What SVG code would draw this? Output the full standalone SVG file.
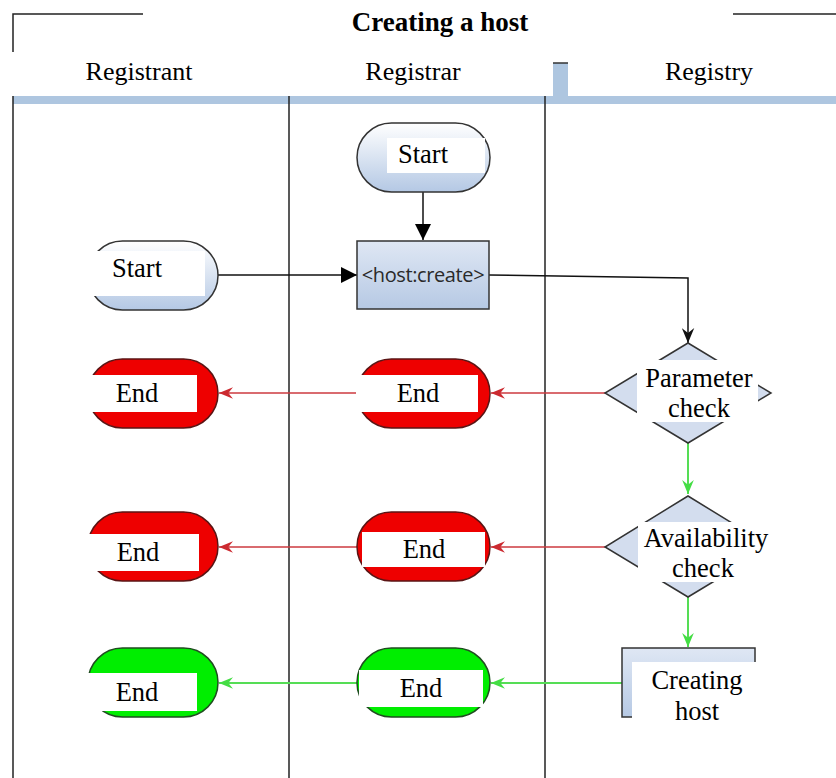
<svg xmlns="http://www.w3.org/2000/svg" width="836" height="778" viewBox="0 0 836 778">
<defs>
<linearGradient id="gStart" x1="0" y1="0" x2="0" y2="1"><stop offset="0" stop-color="#ffffff"/><stop offset="1" stop-color="#b4c8e4"/></linearGradient>
<linearGradient id="gRect" x1="0" y1="0" x2="0" y2="1"><stop offset="0" stop-color="#dfe7f4"/><stop offset="1" stop-color="#b6c9e4"/></linearGradient>
<marker id="mTri" viewBox="0 0 10 10" refX="10" refY="5" markerWidth="16" markerHeight="16" markerUnits="userSpaceOnUse" orient="auto"><path d="M0,0 L10,5 L0,10 z" fill="#000"/></marker>
<marker id="mBlk" viewBox="0 0 12 10" refX="12" refY="5" markerWidth="15" markerHeight="13" markerUnits="userSpaceOnUse" orient="auto"><path d="M0,0 L12,5 L0,10 L4,5 z" fill="#111"/></marker>
<marker id="mRed" viewBox="0 0 12 10" refX="12" refY="5" markerWidth="14" markerHeight="12" markerUnits="userSpaceOnUse" orient="auto"><path d="M0,0 L12,5 L0,10 L4,5 z" fill="#cc2a30"/></marker>
<marker id="mGrn" viewBox="0 0 12 10" refX="12" refY="5" markerWidth="14" markerHeight="12" markerUnits="userSpaceOnUse" orient="auto"><path d="M0,0 L12,5 L0,10 L4,5 z" fill="#44dd44"/></marker>
</defs>
<style>
.t{font-family:"Liberation Serif","Times New Roman",serif;font-size:26.5px;fill:#000;text-anchor:middle}
.h{font-family:"Liberation Serif","Times New Roman",serif;font-size:26px;fill:#000;text-anchor:middle}
.wb{fill:#fff}
.ln{stroke:#222;stroke-width:1.5;fill:none}
.startN{fill:url(#gStart);stroke:#333;stroke-width:1.5}
.rectN{fill:url(#gRect);stroke:#333;stroke-width:1.5}
.dia{fill:#d3ddee;stroke:#333;stroke-width:1.5}
.endR{fill:#ee0000;stroke:#5a1414;stroke-width:1.5}
.endG{fill:#00ee00;stroke:#1f4d1f;stroke-width:1.5}
.cb{stroke:#111;stroke-width:1.5;fill:none}
.cr{stroke:#cc3a3f;stroke-width:1.5;fill:none;marker-end:url(#mRed)}
.cg{stroke:#55dd55;stroke-width:2;fill:none;marker-end:url(#mGrn)}
</style>
<rect width="836" height="778" fill="#fff"/>
<g id="frame">
<path class="ln" d="M13,52 L13,14 L143,14"/>
<path class="ln" d="M733,14 L836,14"/>
<text x="440" y="31" class="t" style="font-weight:bold;font-size:27px">Creating a host</text>
<rect x="553" y="63" width="15" height="33" fill="#aec6e0"/>
<line x1="553" y1="63" x2="568" y2="63" stroke="#333" stroke-width="1.5"/>
<rect x="13" y="96" width="823" height="8" fill="#aec6e0"/>
<text x="139" y="80" class="h">Registrant</text>
<text x="413" y="80" class="h">Registrar</text>
<text x="709" y="80" class="h">Registry</text>
<line class="ln" x1="13" y1="96" x2="13" y2="778"/>
<line class="ln" x1="289" y1="96" x2="289" y2="778"/>
<line class="ln" x1="545" y1="96" x2="545" y2="778"/>
</g>
<g id="connectors">
<path class="cb" d="M423,192 L423,240" marker-end="url(#mTri)"/>
<path class="cb" d="M218,275 L357,275" marker-end="url(#mTri)"/>
<path class="cb" d="M489,275 L688,278 L688,343" marker-end="url(#mBlk)"/>
<path class="cr" d="M605,393 L491,393"/>
<path class="cr" d="M357,393 L219,393"/>
<path class="cr" d="M605,547 L491,547"/>
<path class="cr" d="M357,547 L219,547"/>
<path class="cg" d="M688,443 L688,494"/>
<path class="cg" d="M688,597 L688,647"/>
<path class="cg" d="M622,683 L491,683"/>
<path class="cg" d="M357,683 L219,683"/>
</g>
<g id="registrar-start">
<rect class="startN" x="357" y="123" width="133" height="69" rx="34.5"/>
<rect class="wb" x="387" y="138" width="98" height="35"/>
<text x="423" y="163" class="t">Start</text>
</g>
<g id="host-create">
<rect class="rectN" x="357" y="241" width="132" height="68"/>
<text x="423" y="282" style="font-family:'Open Sans','DejaVu Sans',sans-serif;font-size:20px;fill:#2a2a2a;text-anchor:middle;letter-spacing:-0.4px">&lt;host:create&gt;</text>
</g>
<g id="registrant-start">
<rect class="startN" x="88" y="241" width="130" height="69" rx="34.5"/>
<rect class="wb" x="84" y="251" width="121" height="45"/>
<text x="137" y="277" class="t">Start</text>
</g>
<g id="param-check">
<polygon class="dia" points="688,343 771,393 688,443 605,393"/>
<rect class="wb" x="637" y="360" width="121" height="62"/>
<text x="699" y="387" class="t">Parameter</text>
<text x="699" y="417" class="t">check</text>
</g>
<g id="avail-check">
<polygon class="dia" points="688,496 771,547 688,597 605,547"/>
<rect class="wb" x="638" y="522" width="139" height="60"/>
<text x="706" y="547" class="t">Availability</text>
<text x="703" y="577" class="t">check</text>
</g>
<g id="creating-host">
<rect class="rectN" x="622" y="648" width="133" height="69"/>
<rect class="wb" x="632" y="662" width="131" height="61"/>
<text x="697" y="689" class="t">Creating</text>
<text x="697" y="720" class="t">host</text>
</g>
<g id="end-r1-registrar">
<rect class="endR" x="357" y="359" width="133" height="69" rx="34.5"/>
<rect class="wb" x="356" y="375" width="122" height="37"/>
<text x="418" y="402" class="t">End</text>
</g>
<g id="end-r1-registrant">
<rect class="endR" x="88" y="359" width="130" height="69" rx="34.5"/>
<rect class="wb" x="84" y="375" width="113" height="37"/>
<text x="137" y="402" class="t">End</text>
</g>
<g id="end-r2-registrar">
<rect class="endR" x="357" y="512" width="133" height="69" rx="34.5"/>
<rect class="wb" x="362" y="532" width="123" height="35"/>
<text x="424" y="558" class="t">End</text>
</g>
<g id="end-r2-registrant">
<rect class="endR" x="88" y="512" width="130" height="69" rx="34.5"/>
<rect class="wb" x="84" y="534" width="115" height="37"/>
<text x="138" y="561" class="t">End</text>
</g>
<g id="end-g-registrar">
<rect class="endG" x="357" y="648" width="133" height="69" rx="34.5"/>
<rect class="wb" x="359" y="670" width="124" height="37"/>
<text x="421" y="697" class="t">End</text>
</g>
<g id="end-g-registrant">
<rect class="endG" x="88" y="648" width="130" height="69" rx="34.5"/>
<rect class="wb" x="84" y="673" width="113" height="38"/>
<text x="137" y="701" class="t">End</text>
</g>
</svg>
